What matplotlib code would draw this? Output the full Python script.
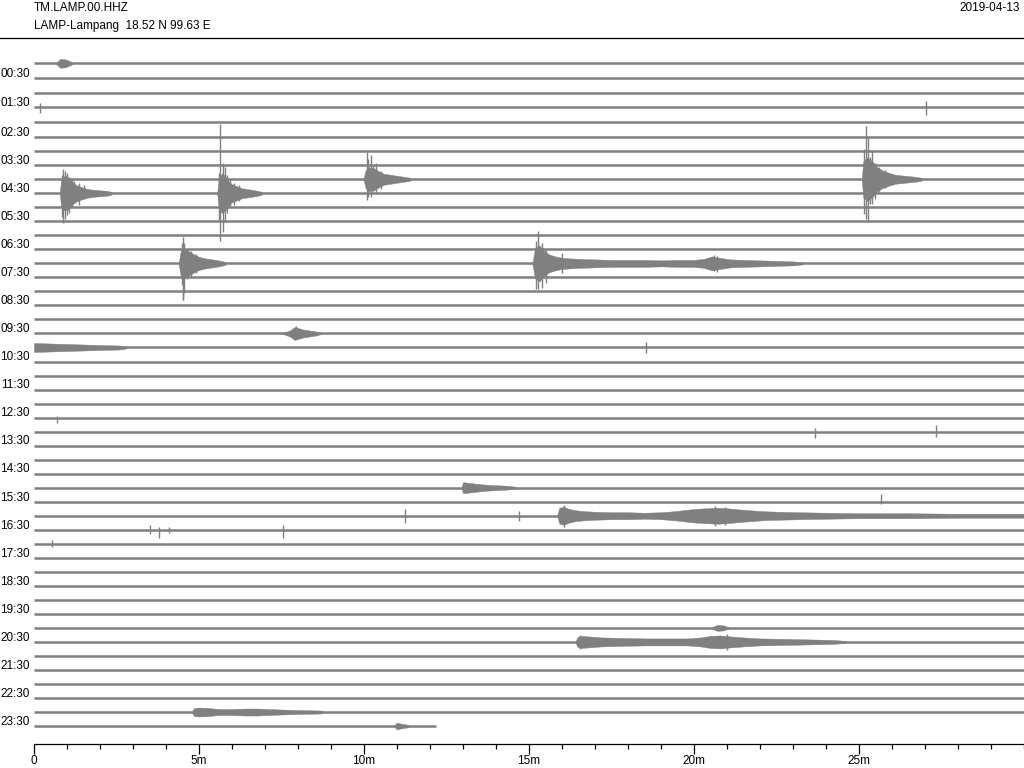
import numpy as np
import matplotlib
matplotlib.use('Agg')
import matplotlib.pyplot as plt
from matplotlib.ticker import MultipleLocator, FixedLocator

# station / header info
station_code = 'TM.LAMP.00.HHZ'
station_desc = 'LAMP-Lampang  18.52 N 99.63 E'
day = '2019-04-13'

# 48 half-hour lines, last one stops early
n_lines = 48
line_minutes = 30
last_line_end = 12.18
hour_labels = ['%02d:30' % h for h in range(24)]   # shown on the odd lines

# slow drift of the first traces (in line units)
dc_offset = [0.27, 0.20, 0.17, 0.14, 0.10]

# amplitudes below are in counts, 14 counts = one line spacing
counts_per_line = 14.0

# --- events: envelope knots (minute, amplitude) ---
ev_a_line = 9
ev_a_t = [0.78, 0.82, 0.9, 1.0, 1.1, 1.2, 1.3, 1.45, 1.6, 1.8, 2.0, 2.2, 2.35]
ev_a_amp = [0, 13, 17, 17, 14, 10, 8, 6, 4.5, 3.5, 3, 2.5, 1.5]

ev_b_line = 9
ev_b_t = [5.55, 5.6, 5.7, 5.8, 5.9, 6.0, 6.15, 6.3, 6.5, 6.7, 6.9]
ev_b_amp = [0, 15, 20, 17, 12, 9, 7, 5, 4, 3, 1.5]

ev_c_line = 8
ev_c_t = [9.98, 10.05, 10.15, 10.3, 10.45, 10.6, 10.8, 11.0, 11.2, 11.4]
ev_c_amp = [0, 9, 12, 11, 8, 5.5, 4.5, 3.5, 2.5, 1.5]

ev_d_line = 8
ev_d_t = [25.08, 25.13, 25.25, 25.4, 25.55, 25.7, 25.9, 26.1, 26.4, 26.7, 26.9]
ev_d_amp = [0, 18, 22, 18, 12, 9, 6.5, 4.5, 3.5, 2.5, 1.5]

ev_e_line = 14
ev_e_t = [4.38, 4.45, 4.55, 4.7, 4.85, 5.0, 5.2, 5.4, 5.6, 5.8]
ev_e_amp = [0, 13, 15, 12, 9, 6.5, 5, 4, 3, 1.5]

ev_f_line = 14
ev_f_t = [15.1, 15.18, 15.3, 15.45, 15.6, 15.8, 16.0, 16.5, 17.0, 17.5, 18.0, 18.5,
          19.0, 19.5, 20.0, 20.3, 20.55, 20.8, 21.1, 21.5, 22.0, 22.5, 23.0, 23.3]
ev_f_amp = [0, 15, 18, 13, 9, 7, 5.5, 4.5, 4, 3.5, 3.5, 3.5,
            3, 3.5, 3.5, 4.5, 7, 5.5, 4, 3.5, 3, 2.5, 2, 1]

ev_g_line = 19
ev_g_t = [7.5, 7.75, 7.9, 8.0, 8.15, 8.35, 8.55, 8.7]
ev_g_amp = [0, 3, 6.5, 5.5, 4, 3, 2, 0.5]

ev_h_line = 20
ev_h_t = [0.0, 0.5, 1.0, 1.5, 2.0, 2.6, 2.8]
ev_h_amp = [4.5, 4, 3.5, 3, 2.5, 2, 1]

ev_i_line = 30
ev_i_t = [12.95, 13.0, 13.15, 13.4, 13.7, 14.0, 14.3, 14.6]
ev_i_amp = [0, 5.5, 5, 4, 3, 2.5, 2, 1]

ev_j_line = 32
ev_j_t = [15.85, 15.92, 16.05, 16.2, 16.4, 16.7, 17.0, 17.5, 18.0, 18.5, 19.0, 19.4,
          19.8, 20.1, 20.4, 20.7, 21.0, 21.3, 21.7, 22.1, 22.6, 23.2, 24.0, 25.0,
          26.5, 28.0, 30.0]
ev_j_amp = [0, 8, 9, 7, 5.5, 4.5, 4, 3.5, 3.5, 3, 3.5, 4.5,
            6, 7, 7.5, 8, 7.5, 6.5, 5.5, 4.5, 4, 3.5, 3, 2.5,
            2.5, 2, 2]

ev_k_line = 41
ev_k_t = [16.4, 16.47, 16.6, 16.8, 17.2, 17.8, 18.5, 19.2, 19.8, 20.2, 20.5, 20.8,
          21.1, 21.5, 22.0, 22.8, 23.5, 24.2, 24.6]
ev_k_amp = [0, 5, 6, 5.5, 4.5, 4, 3.5, 3.5, 3.5, 4.5, 6, 6.5,
            5.5, 4.5, 3.5, 3, 2.5, 2, 1]

ev_l_line = 46
ev_l_t = [4.78, 4.85, 5.0, 5.3, 5.6, 6.0, 6.4, 6.8, 7.1, 7.5, 8.0, 8.7, 8.8]
ev_l_amp = [0, 4, 4.5, 4, 3, 3, 3.5, 3.5, 3, 2.5, 2, 1.5, 0]

ev_m_line = 47
ev_m_t = [10.9, 11.0, 11.1, 11.3, 11.4]
ev_m_amp = [0, 3.5, 2.5, 1.5, 0]

ev_n_line = 0
ev_n_t = [0.65, 0.8, 0.95, 1.1, 1.2]
ev_n_amp = [0, 4.5, 4, 2, 0]

ev_o_line = 40
ev_o_t = [20.5, 20.7, 20.9, 21.1]
ev_o_amp = [0, 3, 2.5, 0]

events = [
    (ev_a_line, ev_a_t, ev_a_amp), (ev_b_line, ev_b_t, ev_b_amp),
    (ev_c_line, ev_c_t, ev_c_amp), (ev_d_line, ev_d_t, ev_d_amp),
    (ev_e_line, ev_e_t, ev_e_amp), (ev_f_line, ev_f_t, ev_f_amp),
    (ev_g_line, ev_g_t, ev_g_amp), (ev_h_line, ev_h_t, ev_h_amp),
    (ev_i_line, ev_i_t, ev_i_amp), (ev_j_line, ev_j_t, ev_j_amp),
    (ev_k_line, ev_k_t, ev_k_amp), (ev_l_line, ev_l_t, ev_l_amp),
    (ev_m_line, ev_m_t, ev_m_amp), (ev_n_line, ev_n_t, ev_n_amp),
    (ev_o_line, ev_o_t, ev_o_amp),
]

# --- single large swings: line, minute, peak up, peak down (counts) ---
spike_line = [9, 9, 9, 9, 9, 9, 9, 9, 9, 9, 9, 9, 9, 9, 9, 9, 9,
              8, 8, 8, 8, 8, 8, 8, 8, 8, 8, 8, 8, 8, 8,
              14, 14, 14, 14, 14, 14, 14, 14, 14, 14, 14, 14, 14, 14, 14,
              3, 3, 16, 20, 25, 26, 26, 31, 32, 32,
              33, 33, 33, 33, 34, 32, 32, 32, 41, 41, 19]
spike_min = [0.84, 0.87, 0.93, 1.0, 1.07, 1.15, 1.22, 1.35, 1.5,
             5.62, 5.65, 5.72, 5.8, 5.85, 5.95, 6.05, 6.2,
             10.08, 10.12, 10.2, 10.27, 10.35, 10.5,
             25.15, 25.2, 25.27, 25.33, 25.38, 25.48, 25.62, 25.8,
             4.48, 4.5, 4.56, 4.65, 4.75, 4.9,
             15.22, 15.27, 15.33, 15.38, 15.45, 15.52, 16.0, 20.6, 20.7,
             0.18, 27.03, 4.52, 18.55, 0.7, 23.67, 27.33, 25.67, 11.24, 14.7,
             3.52, 3.79, 4.1, 7.55, 0.55, 16.05, 20.65, 20.95, 16.55, 21.0, 7.95]
spike_up = [18, 24, 22, 20, 16, 14, 12, 10, 8,
            20, 69, 30, 26, 18, 14, 10, 8,
            27, 20, 24, 14, 16, 8,
            30, 53, 42, 22, 28, 16, 12, 9,
            20, 26, 20, 14, 12, 9,
            22, 32, 17, 20, 13, 13, 10, 8, 7,
            4, 6, 0, 5, 2, 4, 7, 8, 7, 5,
            5, 3, 3, 5, 4, 11, 10, 9, 7, 8, 7]
spike_down = [24, 30, 26, 22, 20, 14, 10, 12, 6,
              28, 48, 39, 28, 20, 14, 12, 8,
              21, 18, 18, 12, 14, 10,
              35, 40, 43, 25, 25, 20, 14, 9,
              22, 37, 30, 16, 14, 10,
              26, 26, 18, 25, 14, 20, 10, 8, 9,
              6, 8, 9, 5, 5, 6, 5, 2, 7, 5,
              4, 8, 3, 8, 3, 11, 10, 9, 7, 8, 6]

gray = '#808080'
W, H = 1024, 768

fig = plt.figure(figsize=(W / 100, H / 100), dpi=100)
plt.rcParams['font.family'] = ['Liberation Sans', 'DejaVu Sans']

# axes: 0 min at x=34px, bottom spine at y=744px, line 0 at y=67px, 14.02px per line
px_per_line = 14.02
y0_px = 67.1
top_px = 40.0
bottom_px = 743.7
ax = fig.add_axes([34 / W, 1 - bottom_px / H, (W - 34) / W, (bottom_px - top_px) / H])
ax.set_xlim(0, line_minutes)
ax.set_ylim(-(bottom_px - y0_px) / px_per_line, (y0_px - top_px) / px_per_line)


def line_y(i):
    return -i + (dc_offset[i] if i < len(dc_offset) else 0.0)


# base traces
for i in range(n_lines):
    end = last_line_end if i == n_lines - 1 else line_minutes
    ax.plot([0, end], [line_y(i), line_y(i)], color=gray, lw=1.8,
            solid_capstyle='butt', zorder=2)

# event envelopes
for li, t, amp in events:
    t = np.array(t)
    a = np.array(amp) / counts_per_line
    y = line_y(li)
    ax.fill_between(t, y - a, y + a, color=gray, lw=0.3, zorder=3)

# big swings
for li, t, up, dn in zip(spike_line, spike_min, spike_up, spike_down):
    y = line_y(li)
    ax.vlines(t, y - dn / counts_per_line, y + up / counts_per_line,
              color=gray, lw=1.0, zorder=3)

# hour labels on the odd lines
for k, lab in enumerate(hour_labels):
    i = 2 * k + 1
    ax.text(-0.12, line_y(i) + 0.3, lab, ha='right', va='center', fontsize=8.5,
            color='black')

# x axis
for s in ['left', 'right', 'top']:
    ax.spines[s].set_visible(False)
ax.spines['bottom'].set_linewidth(0.9)
ax.set_yticks([])
ax.xaxis.set_major_locator(FixedLocator([0, 5, 10, 15, 20, 25]))
ax.set_xticklabels(['0', '5m', '10m', '15m', '20m', '25m'])
ax.xaxis.set_minor_locator(MultipleLocator(1))
ax.tick_params(axis='x', which='major', length=7, width=0.9, pad=0.8, labelsize=8.5)
ax.tick_params(axis='x', which='minor', length=3.4, width=0.9)

# header
fig.text(34 / W, 1 - 8 / H, station_code, ha='left', va='center', fontsize=8.5)
fig.text(34 / W, 1 - 26 / H, station_desc, ha='left', va='center', fontsize=8.5)
fig.text(1020 / W, 1 - 8 / H, day, ha='right', va='center', fontsize=8.5)
fig.add_artist(plt.Line2D([0, 1], [1 - 38.3 / H, 1 - 38.3 / H], color='black', lw=0.9))

fig.savefig('out.png', dpi=100)
